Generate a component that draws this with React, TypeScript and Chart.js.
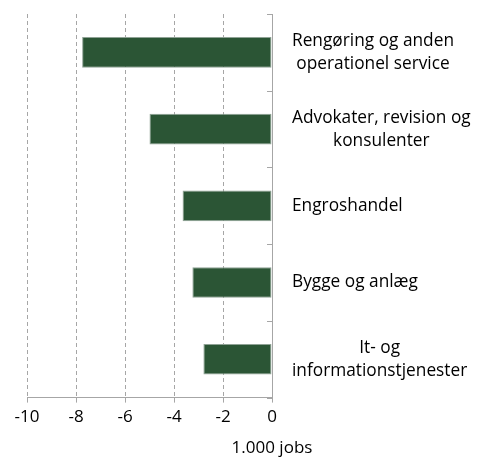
import React, { useEffect, useRef } from "react";
import { Chart, registerables } from "chart.js";

Chart.register(...registerables);

const categories: string[][] = [
  ["Rengøring og anden", "operationel service"],
  ["Advokater, revision og", "konsulenter"],
  ["Engroshandel"],
  ["Bygge og anlæg"],
  ["It- og", "informationstjenester"],
];
const values: number[] = [-7.75, -5.0, -3.65, -3.25, -2.8];
const xMin = -10;
const xMax = 0;
const xStep = 2;
const xTitle = "1.000 jobs";

const FONT = "'Open Sans', 'Noto Sans', sans-serif";
const GRID = "#a6a6a6";
const BAR = "#2b5535";

const customPlugin = {
  id: "custom",
  afterDraw(chart: any) {
    const ctx = chart.ctx;
    const y = chart.scales.y;
    const x = chart.scales.x;
    const area = chart.chartArea;
    ctx.save();
    ctx.strokeStyle = GRID;
    ctx.lineWidth = 1;
    const n = categories.length;
    const step = (y.bottom - y.top) / n;
    for (let k = 0; k <= n; k++) {
      const py = Math.round(y.top + k * step) + 0.5;
      ctx.beginPath();
      ctx.moveTo(area.right - 5, py);
      ctx.lineTo(area.right, py);
      ctx.stroke();
    }
    ctx.font = `17.3px ${FONT}`;
    ctx.fillStyle = "#000";
    ctx.textBaseline = "middle";
    ctx.textAlign = "center";
    const lineH = 23;
    const left = area.right + 20;
    categories.forEach((lines, i) => {
      const cy = y.getPixelForValue(i);
      const w = Math.max(...lines.map((l) => ctx.measureText(l).width));
      const cx = left + w / 2;
      const startY = cy - ((lines.length - 1) * lineH) / 2;
      lines.forEach((l, j) => ctx.fillText(l, cx, startY + j * lineH));
    });
    ctx.font = `17px ${FONT}`;
    ctx.fillText(xTitle, x.getPixelForValue(0), 448);
    ctx.restore();
  },
};

export default function App() {
  const ref = useRef<HTMLCanvasElement>(null);
  useEffect(() => {
    if (!ref.current) return;
    const chart = new Chart(ref.current, {
      type: "bar",
      data: {
        labels: categories,
        datasets: [
          {
            data: values,
            backgroundColor: BAR,
            borderColor: "#8fa295",
            borderWidth: 1,
            borderSkipped: false,
            barPercentage: 0.4,
            categoryPercentage: 1,
          },
        ],
      },
      plugins: [customPlugin],
      options: {
        indexAxis: "y",
        animation: false,
        responsive: true,
        maintainAspectRatio: false,
        layout: { padding: { left: 27, top: 14, right: 8, bottom: 29 } },
        plugins: { legend: { display: false }, tooltip: { enabled: false } },
        scales: {
          x: {
            min: xMin,
            max: xMax,
            ticks: {
              stepSize: xStep,
              padding: 4,
              color: "#000",
              font: { family: FONT, size: 17 },
            },
            grid: {
              color: GRID,
              lineWidth: 1,
              drawTicks: true,
              tickLength: 5,
              tickColor: GRID,
            },
            border: { display: true, color: GRID, width: 1, dash: [4, 3] },
          },
          y: {
            position: "right",
            ticks: { display: false },
            grid: { display: true, drawOnChartArea: false, drawTicks: false },
            border: { display: true, color: GRID, width: 1 },
            afterFit: (scale: any) => {
              scale.width = 206;
            },
          },
        },
      },
    });
    return () => chart.destroy();
  }, []);
  return (
    <div style={{ position: "fixed", left: 0, top: 0, width: 486, height: 460 }}>
      <canvas ref={ref} />
    </div>
  );
}
